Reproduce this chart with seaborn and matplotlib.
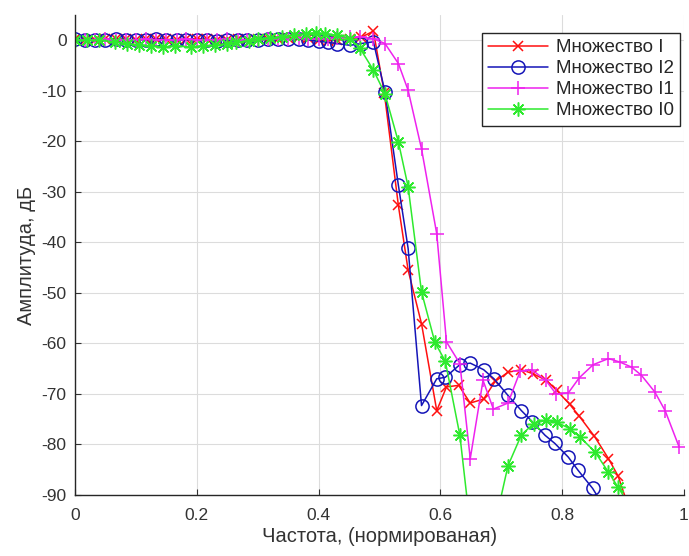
import numpy as np
import pandas as pd
import matplotlib
matplotlib.use("Agg")
import matplotlib.pyplot as plt
import seaborn as sns

# ---------------- data ----------------
series_names = ["Множество I", "Множество I2", "Множество I1", "Множество I0"]

x_I = [0, 0.017, 0.033, 0.05, 0.067, 0.083, 0.1, 0.117, 0.133, 0.15, 0.167, 0.183,
       0.2, 0.217, 0.233, 0.25, 0.267, 0.283, 0.3, 0.317, 0.333, 0.35, 0.367, 0.383,
       0.4, 0.415, 0.43, 0.452, 0.47, 0.49, 0.508, 0.531, 0.547, 0.569, 0.594, 0.61,
       0.63, 0.649, 0.671, 0.69, 0.711, 0.733, 0.752, 0.774, 0.791, 0.812, 0.828,
       0.853, 0.876, 0.892, 0.912]
y_I = [0.2, 0.1, 0.0, 0.2, 0.3, 0.2, 0.1, 0.2, 0.3, 0.2, 0.1, 0.2,
       0.3, 0.2, 0.1, 0.1, 0.2, 0.1, 0.2, 0.3, 0.3, 0.5, 0.6, 0.4,
       0.1, -0.1, 0.0, 0.3, 0.6, 1.8, -10.5, -32.7, -45.5, -56.1, -73.3, -68.6,
       -68.3, -71.8, -71.0, -67.5, -65.7, -65.2, -66.0, -67.3, -69.3, -72.0, -74.4,
       -78.4, -82.8, -86.3, -93.5]

x_I2 = [0, 0.017, 0.033, 0.05, 0.067, 0.083, 0.1, 0.117, 0.133, 0.15, 0.167, 0.183,
        0.2, 0.217, 0.233, 0.25, 0.267, 0.283, 0.3, 0.317, 0.333, 0.35, 0.367, 0.383,
        0.4, 0.415, 0.43, 0.452, 0.47, 0.49, 0.509, 0.531, 0.547, 0.569, 0.594, 0.608,
        0.632, 0.649, 0.671, 0.688, 0.711, 0.733, 0.751, 0.772, 0.788, 0.81, 0.826,
        0.85, 0.872]
y_I2 = [0.2, 0.1, 0.0, 0.1, 0.2, 0.1, 0.0, 0.1, 0.2, 0.1, 0.0, 0.1,
        0.1, 0.0, -0.1, 0.0, 0.1, 0.0, 0.1, 0.2, 0.2, 0.3, 0.3, 0.1,
        -0.2, -0.4, -0.65, -1.0, -0.65, -0.3, -10.2, -28.7, -41.2, -72.3, -67.0, -66.7,
        -64.2, -63.9, -65.2, -67.0, -70.3, -73.3, -75.5, -78.2, -79.8, -82.5, -85.1,
        -88.7, -93.0]

x_I1 = [0, 0.017, 0.033, 0.05, 0.067, 0.083, 0.1, 0.117, 0.133, 0.15, 0.167, 0.183,
        0.2, 0.217, 0.233, 0.25, 0.267, 0.283, 0.3, 0.317, 0.333, 0.35, 0.367, 0.383,
        0.4, 0.415, 0.43, 0.452, 0.468, 0.49, 0.509, 0.531, 0.547, 0.569, 0.594, 0.61,
        0.632, 0.649, 0.67, 0.687, 0.711, 0.731, 0.75, 0.773, 0.79, 0.81, 0.828,
        0.851, 0.876, 0.895, 0.914, 0.93, 0.952, 0.969, 0.992]
y_I1 = [0.1, 0.0, 0.1, 0.2, 0.1, 0.0, 0.1, 0.2, 0.1, 0.0, 0.1, 0.2,
        0.1, 0.0, 0.1, 0.2, 0.1, 0.0, 0.1, 0.2, 0.2, 0.3, 0.4, 0.3,
        0.2, 0.3, 0.4, 0.6, 0.7, 0.3, -0.65, -4.6, -9.9, -21.5, -38.3, -59.7,
        -64.0, -82.8, -67.3, -73.0, -71.8, -65.5, -65.2, -67.3, -70.0, -69.8, -66.8,
        -64.2, -63.0, -63.7, -64.7, -66.3, -69.6, -73.3, -80.5]

x_I0 = [0, 0.02, 0.04, 0.065, 0.085, 0.105, 0.125, 0.145, 0.165, 0.19, 0.21, 0.23,
        0.25, 0.265, 0.285, 0.3, 0.32, 0.34, 0.36, 0.38, 0.395, 0.41, 0.43, 0.452,
        0.468, 0.49, 0.509, 0.531, 0.547, 0.569, 0.591, 0.608, 0.632, 0.652, 0.671,
        0.69, 0.711, 0.733, 0.753, 0.774, 0.791, 0.813, 0.829, 0.854, 0.876, 0.892, 0.91]
y_I0 = [0.0, 0.0, 0.0, -0.3, -0.7, -0.9, -1.1, -1.3, -1.1, -1.3, -1.1, -1.0,
        -0.7, -0.4, -0.1, 0.3, 0.5, 0.7, 1.0, 1.3, 1.5, 1.3, 1.0, 0.3,
        -1.6, -5.9, -10.6, -20.1, -29.0, -49.8, -59.8, -63.5, -78.2, -99.5, -110.0,
        -95.5, -84.2, -78.1, -75.9, -75.2, -75.6, -76.9, -78.5, -81.5, -85.5, -88.5, -92.0]

x_ticks = [0, 0.2, 0.4, 0.6, 0.8, 1]
x_tick_labels = ["0", "0.2", "0.4", "0.6", "0.8", "1"]
y_ticks = [0, -10, -20, -30, -40, -50, -60, -70, -80, -90]

# ---------------- style ----------------
sns.set_style("whitegrid")
plt.rcParams["font.family"] = ["Liberation Sans", "DejaVu Sans"]
plt.rcParams["axes.unicode_minus"] = False

fig = plt.figure(figsize=(6.89, 5.56), dpi=100)
ax = fig.add_axes([75 / 689, 1 - 495 / 556, 609 / 689, 480 / 556])

styles = [
    dict(color="#ff1010", marker="x", ms=7, mfc="#ff1010"),
    dict(color="#1515b8", marker="o", ms=9.5, mfc="none"),
    dict(color="#ee22ee", marker="+", ms=10, mfc="#ee22ee"),
    dict(color="#2eea2e", marker=(8, 2, 0), ms=10, mfc="#2eea2e"),
]
data = [(x_I, y_I), (x_I2, y_I2), (x_I1, y_I1), (x_I0, y_I0)]

for name, (xs, ys), st in zip(series_names, data, styles):
    df = pd.DataFrame({"f": xs, "a": ys})
    sns.lineplot(data=df, x="f", y="a", ax=ax, sort=False, estimator=None,
                 color=st["color"], marker=st["marker"], markersize=st["ms"],
                 markerfacecolor=st["mfc"], markeredgecolor=st["color"],
                 markeredgewidth=1.1, linewidth=1.1, label=name)

ax.set_xlim(0, 1)
ax.set_ylim(-90, 5)
ax.set_xticks(x_ticks)
ax.set_xticklabels(x_tick_labels)
ax.set_yticks(y_ticks)
ax.set_yticklabels([str(v) for v in y_ticks])
ax.tick_params(axis="x", pad=9)
ax.tick_params(axis="y", pad=6)
ax.tick_params(axis="both", direction="in", length=4, labelsize=12.5,
               colors="#333333", left=True, bottom=True)
ax.grid(True, color="#dcdcdc", linewidth=0.8)
for side in ["top", "right"]:
    ax.spines[side].set_visible(False)
for side in ["left", "bottom"]:
    ax.spines[side].set_color("#262626")
    ax.spines[side].set_linewidth(1.0)

ax.set_xlabel("Частота, (нормированая)", fontsize=14.5, color="#333333", labelpad=3)
ax.set_ylabel("Амплитуда, дБ", fontsize=14.5, color="#333333", labelpad=4)

leg = ax.legend(loc="upper right", bbox_to_anchor=(0.994, 0.963), borderaxespad=0,
                fontsize=13.5, frameon=True, fancybox=False, handlelength=3.2,
                labelspacing=0.2, borderpad=0.35, handletextpad=0.4)
leg.get_frame().set_edgecolor("#262626")
leg.get_frame().set_linewidth(1.0)
leg.get_frame().set_alpha(1.0)

fig.savefig("out.png", dpi=100)
